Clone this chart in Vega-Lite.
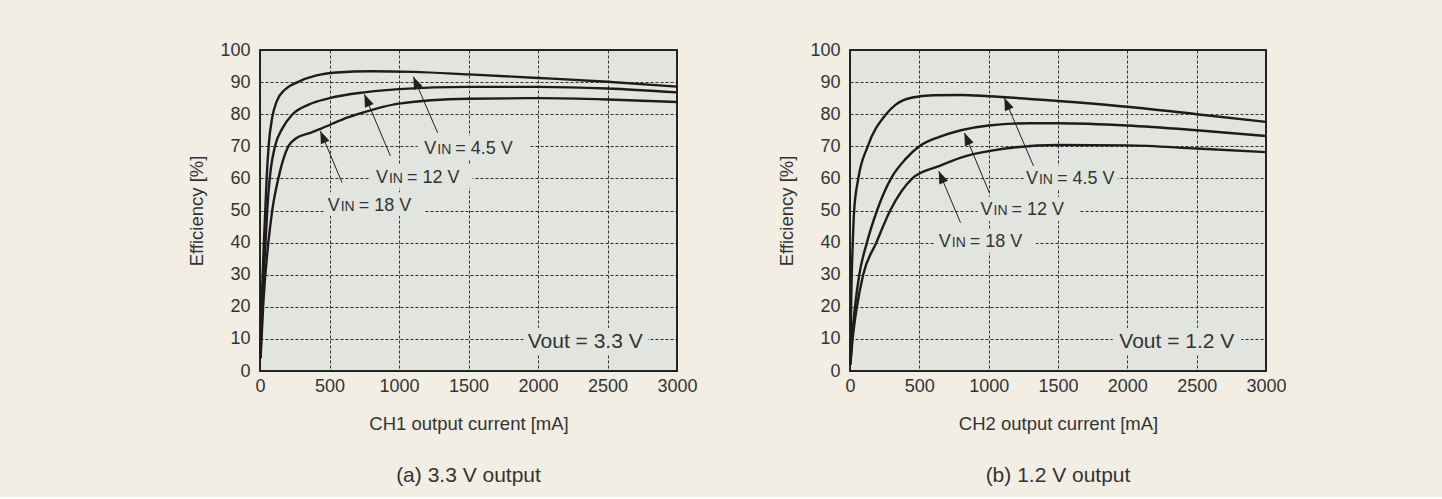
{
"$schema": "https://vega.github.io/schema/vega-lite/v6.json",
"background": "#f2eee3",
"padding": {"left": 186, "top": 40, "right": 162, "bottom": 10},
"bounds": "flush",
"spacing": 173,
"datasets": {
"curves": [
{"p":"a","vin":"4.5","x":2,"y":4},{"p":"a","vin":"4.5","x":15,"y":25},{"p":"a","vin":"4.5","x":28,"y":40},{"p":"a","vin":"4.5","x":38,"y":50},{"p":"a","vin":"4.5","x":48,"y":60},{"p":"a","vin":"4.5","x":62,"y":70},{"p":"a","vin":"4.5","x":88,"y":79},{"p":"a","vin":"4.5","x":120,"y":84},{"p":"a","vin":"4.5","x":180,"y":87.7},{"p":"a","vin":"4.5","x":271,"y":90},{"p":"a","vin":"4.5","x":400,"y":92},{"p":"a","vin":"4.5","x":550,"y":93},{"p":"a","vin":"4.5","x":800,"y":93.4},{"p":"a","vin":"4.5","x":1100,"y":93.2},{"p":"a","vin":"4.5","x":1500,"y":92.4},{"p":"a","vin":"4.5","x":2000,"y":91.3},{"p":"a","vin":"4.5","x":2500,"y":90.1},{"p":"a","vin":"4.5","x":3000,"y":88.6},
{"p":"a","vin":"12","x":3,"y":4},{"p":"a","vin":"12","x":20,"y":25},{"p":"a","vin":"12","x":40,"y":40},{"p":"a","vin":"12","x":52,"y":50},{"p":"a","vin":"12","x":70,"y":60},{"p":"a","vin":"12","x":108,"y":70},{"p":"a","vin":"12","x":160,"y":75.5},{"p":"a","vin":"12","x":235,"y":80},{"p":"a","vin":"12","x":350,"y":83},{"p":"a","vin":"12","x":500,"y":85},{"p":"a","vin":"12","x":750,"y":86.8},{"p":"a","vin":"12","x":1000,"y":87.8},{"p":"a","vin":"12","x":1500,"y":88.5},{"p":"a","vin":"12","x":2000,"y":88.5},{"p":"a","vin":"12","x":2500,"y":88},{"p":"a","vin":"12","x":3000,"y":86.8},
{"p":"a","vin":"18","x":4,"y":4},{"p":"a","vin":"18","x":25,"y":22},{"p":"a","vin":"18","x":60,"y":40},{"p":"a","vin":"18","x":88,"y":50},{"p":"a","vin":"18","x":132,"y":60},{"p":"a","vin":"18","x":204,"y":70},{"p":"a","vin":"18","x":260,"y":72.5},{"p":"a","vin":"18","x":350,"y":74},{"p":"a","vin":"18","x":440,"y":75.5},{"p":"a","vin":"18","x":600,"y":78.5},{"p":"a","vin":"18","x":703,"y":80},{"p":"a","vin":"18","x":1000,"y":83.3},{"p":"a","vin":"18","x":1500,"y":84.8},{"p":"a","vin":"18","x":2000,"y":85},{"p":"a","vin":"18","x":2500,"y":84.6},{"p":"a","vin":"18","x":3000,"y":83.8},
{"p":"b","vin":"4.5","x":3,"y":2},{"p":"b","vin":"4.5","x":8,"y":20},{"p":"b","vin":"4.5","x":20,"y":40},{"p":"b","vin":"4.5","x":30,"y":50},{"p":"b","vin":"4.5","x":60,"y":60},{"p":"b","vin":"4.5","x":128,"y":70},{"p":"b","vin":"4.5","x":260,"y":80},{"p":"b","vin":"4.5","x":330,"y":83},{"p":"b","vin":"4.5","x":450,"y":85.2},{"p":"b","vin":"4.5","x":600,"y":85.9},{"p":"b","vin":"4.5","x":800,"y":86},{"p":"b","vin":"4.5","x":1000,"y":85.6},{"p":"b","vin":"4.5","x":1500,"y":84.1},{"p":"b","vin":"4.5","x":2000,"y":82.3},{"p":"b","vin":"4.5","x":2500,"y":80},{"p":"b","vin":"4.5","x":3000,"y":77.6},
{"p":"b","vin":"12","x":3,"y":2},{"p":"b","vin":"12","x":14,"y":10},{"p":"b","vin":"12","x":36,"y":20},{"p":"b","vin":"12","x":67,"y":30},{"p":"b","vin":"12","x":122,"y":40},{"p":"b","vin":"12","x":195,"y":50},{"p":"b","vin":"12","x":296,"y":60},{"p":"b","vin":"12","x":400,"y":66},{"p":"b","vin":"12","x":500,"y":70},{"p":"b","vin":"12","x":650,"y":73},{"p":"b","vin":"12","x":800,"y":75},{"p":"b","vin":"12","x":1000,"y":76.5},{"p":"b","vin":"12","x":1300,"y":77.2},{"p":"b","vin":"12","x":1500,"y":77.2},{"p":"b","vin":"12","x":2000,"y":76.5},{"p":"b","vin":"12","x":2500,"y":75},{"p":"b","vin":"12","x":3000,"y":73.2},
{"p":"b","vin":"18","x":3,"y":2},{"p":"b","vin":"18","x":19,"y":10},{"p":"b","vin":"18","x":50,"y":20},{"p":"b","vin":"18","x":95,"y":30},{"p":"b","vin":"18","x":190,"y":40},{"p":"b","vin":"18","x":290,"y":50},{"p":"b","vin":"18","x":450,"y":60},{"p":"b","vin":"18","x":640,"y":63.8},{"p":"b","vin":"18","x":800,"y":66.5},{"p":"b","vin":"18","x":1000,"y":68.5},{"p":"b","vin":"18","x":1500,"y":70.4},{"p":"b","vin":"18","x":2000,"y":70.3},{"p":"b","vin":"18","x":2500,"y":69.3},{"p":"b","vin":"18","x":3000,"y":68.2}
],
"ann": [
{"p":"a","lx":1182,"ly":69.5,"rest":"= 4.5 V","bx0":1134,"bx1":1937,"by0":65.8,"by1":73.3,"tailx":1278,"taily":74.2,"tipx":1103,"tipy":91.7},
{"p":"a","lx":834,"ly":60.7,"rest":"= 12 V","bx0":784,"bx1":1530,"by0":57,"by1":64.4,"tailx":938,"taily":67,"tipx":751,"tipy":86.2},
{"p":"a","lx":487,"ly":52,"rest":"= 18 V","bx0":461,"bx1":1180,"by0":48.3,"by1":55.7,"tailx":590,"taily":58.7,"tipx":434,"tipy":74.8},
{"p":"b","lx":1269,"ly":60.2,"rest":"= 4.5 V","bx0":1262,"bx1":1931,"by0":56.5,"by1":63.9,"tailx":1323,"taily":63.9,"tipx":1113,"tipy":85.1},
{"p":"b","lx":941,"ly":50.5,"rest":"= 12 V","bx0":921,"bx1":1652,"by0":46.8,"by1":54.2,"tailx":1005,"taily":55.5,"tipx":825,"tipy":74.2},
{"p":"b","lx":640,"ly":40.5,"rest":"= 18 V","bx0":606,"bx1":1341,"by0":36.8,"by1":44.2,"tailx":797,"taily":46.2,"tipx":640,"tipy":62.3}
],
"vout": [
{"p":"a","lx":1926,"ly":9.5,"text":"Vout = 3.3 V","bx0":1900,"bx1":2791,"by0":5.3,"by1":13.5},
{"p":"b","lx":1942,"ly":9.5,"text":"Vout = 1.2 V","bx0":1895,"bx1":2820,"by0":5.3,"by1":13.5}
]
},
"config": {
"font": "Liberation Sans",
"view": {"stroke": "#262626", "strokeWidth": 2, "fill": "#e2e5df"},
"axis": {"labelFont": "Liberation Sans", "labelFontSize": 18, "labelColor": "#333333", "titleFont": "Liberation Sans", "titleFontSize": 18.5, "titleFontWeight": "normal", "titleColor": "#333333", "ticks": false, "domain": false, "grid": true, "gridColor": "#1a1a1a", "gridDash": [3, 2], "gridWidth": 0.9, "gridOpacity": 1, "labelFlush": false, "labelOverlap": false},
"axisX": {"labelPadding": 6, "titlePadding": 19},
"axisY": {"labelPadding": 10, "titlePadding": 13},
"title": {"font": "Liberation Sans", "fontSize": 21, "fontWeight": "normal", "color": "#333333"}
},
"hconcat": [
{
"width": 417, "height": 321,
"title": {"text": "(a) 3.3 V output", "orient": "bottom", "offset": 32},
"layer": [
{"data": {"name": "ann"}, "transform": [{"filter": "datum.p === 'a'"}], "mark": {"type": "rect", "fill": "#e2e5df"},
 "encoding": {"x": {"field": "bx0", "type": "quantitative", "title": "CH1 output current [mA]", "scale": {"domain": [0, 3000], "nice": false}, "axis": {"values": [0, 500, 1000, 1500, 2000, 2500, 3000], "format": "d"}}, "x2": {"field": "bx1"},
  "y": {"field": "by0", "type": "quantitative", "title": "Efficiency [%]", "scale": {"domain": [0, 100], "nice": false}, "axis": {"values": [0, 10, 20, 30, 40, 50, 60, 70, 80, 90, 100], "format": "d"}}, "y2": {"field": "by1"}}},
{"data": {"name": "vout"}, "transform": [{"filter": "datum.p === 'a'"}], "mark": {"type": "rect", "fill": "#e2e5df"},
 "encoding": {"x": {"field": "bx0", "type": "quantitative", "title": "CH1 output current [mA]", "axis": {"values": [0, 500, 1000, 1500, 2000, 2500, 3000], "format": "d"}}, "x2": {"field": "bx1"}, "y": {"field": "by0", "type": "quantitative", "title": "Efficiency [%]", "axis": {"values": [0, 10, 20, 30, 40, 50, 60, 70, 80, 90, 100], "format": "d"}}, "y2": {"field": "by1"}}},
{"data": {"name": "curves"}, "transform": [{"filter": "datum.p === 'a'"}], "mark": {"type": "line", "interpolate": "monotone", "color": "#1f1b1c", "strokeWidth": 2.4},
 "encoding": {"x": {"field": "x", "type": "quantitative", "title": "CH1 output current [mA]", "axis": {"values": [0, 500, 1000, 1500, 2000, 2500, 3000], "format": "d"}}, "y": {"field": "y", "type": "quantitative", "title": "Efficiency [%]", "axis": {"values": [0, 10, 20, 30, 40, 50, 60, 70, 80, 90, 100], "format": "d"}}, "detail": {"field": "vin"}}},
{"data": {"name": "ann"}, "transform": [{"filter": "datum.p === 'a'"}], "mark": {"type": "rule", "color": "#231f20", "strokeWidth": 1},
 "encoding": {"x": {"field": "tailx", "type": "quantitative", "title": "CH1 output current [mA]", "axis": {"values": [0, 500, 1000, 1500, 2000, 2500, 3000], "format": "d"}}, "x2": {"field": "tipx"}, "y": {"field": "taily", "type": "quantitative", "title": "Efficiency [%]", "axis": {"values": [0, 10, 20, 30, 40, 50, 60, 70, 80, 90, 100], "format": "d"}}, "y2": {"field": "tipy"}}},
{"data": {"name": "ann"}, "transform": [{"filter": "datum.p === 'a'"}, {"calculate": "atan2((datum.tipx - datum.tailx) * 0.139, (datum.tipy - datum.taily) * 3.21) * 180 / PI", "as": "ang"}], "mark": {"type": "point", "shape": "M0,0L0.9,2.4L-0.9,2.4Z", "filled": true, "color": "#231f20", "size": 110, "opacity": 1},
 "encoding": {"x": {"field": "tipx", "type": "quantitative", "title": "CH1 output current [mA]", "axis": {"values": [0, 500, 1000, 1500, 2000, 2500, 3000], "format": "d"}}, "y": {"field": "tipy", "type": "quantitative", "title": "Efficiency [%]", "axis": {"values": [0, 10, 20, 30, 40, 50, 60, 70, 80, 90, 100], "format": "d"}}, "angle": {"field": "ang", "type": "quantitative", "scale": null}}},
{"data": {"name": "ann"}, "transform": [{"filter": "datum.p === 'a'"}], "mark": {"type": "text", "text": "V", "align": "left", "baseline": "alphabetic", "dy": 6.5, "fontSize": 18, "color": "#333333"},
 "encoding": {"x": {"field": "lx", "type": "quantitative", "title": "CH1 output current [mA]", "axis": {"values": [0, 500, 1000, 1500, 2000, 2500, 3000], "format": "d"}}, "y": {"field": "ly", "type": "quantitative", "title": "Efficiency [%]", "axis": {"values": [0, 10, 20, 30, 40, 50, 60, 70, 80, 90, 100], "format": "d"}}}},
{"data": {"name": "ann"}, "transform": [{"filter": "datum.p === 'a'"}], "mark": {"type": "text", "text": "IN", "align": "left", "baseline": "alphabetic", "dx": 13, "dy": 6.5, "fontSize": 14, "color": "#333333"},
 "encoding": {"x": {"field": "lx", "type": "quantitative", "title": "CH1 output current [mA]", "axis": {"values": [0, 500, 1000, 1500, 2000, 2500, 3000], "format": "d"}}, "y": {"field": "ly", "type": "quantitative", "title": "Efficiency [%]", "axis": {"values": [0, 10, 20, 30, 40, 50, 60, 70, 80, 90, 100], "format": "d"}}}},
{"data": {"name": "ann"}, "transform": [{"filter": "datum.p === 'a'"}], "mark": {"type": "text", "align": "left", "baseline": "alphabetic", "dx": 31, "dy": 6.5, "fontSize": 18, "color": "#333333"},
 "encoding": {"x": {"field": "lx", "type": "quantitative", "title": "CH1 output current [mA]", "axis": {"values": [0, 500, 1000, 1500, 2000, 2500, 3000], "format": "d"}}, "y": {"field": "ly", "type": "quantitative", "title": "Efficiency [%]", "axis": {"values": [0, 10, 20, 30, 40, 50, 60, 70, 80, 90, 100], "format": "d"}}, "text": {"field": "rest"}}},
{"data": {"name": "vout"}, "transform": [{"filter": "datum.p === 'a'"}], "mark": {"type": "text", "align": "left", "baseline": "alphabetic", "dy": 7.5, "fontSize": 21, "color": "#333333"},
 "encoding": {"x": {"field": "lx", "type": "quantitative", "title": "CH1 output current [mA]", "axis": {"values": [0, 500, 1000, 1500, 2000, 2500, 3000], "format": "d"}}, "y": {"field": "ly", "type": "quantitative", "title": "Efficiency [%]", "axis": {"values": [0, 10, 20, 30, 40, 50, 60, 70, 80, 90, 100], "format": "d"}}, "text": {"field": "text"}}}
]
},
{
"width": 416, "height": 321,
"title": {"text": "(b) 1.2 V output", "orient": "bottom", "offset": 32},
"layer": [
{"data": {"name": "ann"}, "transform": [{"filter": "datum.p === 'b'"}], "mark": {"type": "rect", "fill": "#e2e5df"},
 "encoding": {"x": {"field": "bx0", "type": "quantitative", "title": "CH2 output current [mA]", "scale": {"domain": [0, 3000], "nice": false}, "axis": {"values": [0, 500, 1000, 1500, 2000, 2500, 3000], "format": "d"}}, "x2": {"field": "bx1"},
  "y": {"field": "by0", "type": "quantitative", "title": "Efficiency [%]", "scale": {"domain": [0, 100], "nice": false}, "axis": {"values": [0, 10, 20, 30, 40, 50, 60, 70, 80, 90, 100], "format": "d"}}, "y2": {"field": "by1"}}},
{"data": {"name": "vout"}, "transform": [{"filter": "datum.p === 'b'"}], "mark": {"type": "rect", "fill": "#e2e5df"},
 "encoding": {"x": {"field": "bx0", "type": "quantitative", "title": "CH2 output current [mA]", "axis": {"values": [0, 500, 1000, 1500, 2000, 2500, 3000], "format": "d"}}, "x2": {"field": "bx1"}, "y": {"field": "by0", "type": "quantitative", "title": "Efficiency [%]", "axis": {"values": [0, 10, 20, 30, 40, 50, 60, 70, 80, 90, 100], "format": "d"}}, "y2": {"field": "by1"}}},
{"data": {"name": "curves"}, "transform": [{"filter": "datum.p === 'b'"}], "mark": {"type": "line", "interpolate": "monotone", "color": "#1f1b1c", "strokeWidth": 2.4},
 "encoding": {"x": {"field": "x", "type": "quantitative", "title": "CH2 output current [mA]", "axis": {"values": [0, 500, 1000, 1500, 2000, 2500, 3000], "format": "d"}}, "y": {"field": "y", "type": "quantitative", "title": "Efficiency [%]", "axis": {"values": [0, 10, 20, 30, 40, 50, 60, 70, 80, 90, 100], "format": "d"}}, "detail": {"field": "vin"}}},
{"data": {"name": "ann"}, "transform": [{"filter": "datum.p === 'b'"}], "mark": {"type": "rule", "color": "#231f20", "strokeWidth": 1},
 "encoding": {"x": {"field": "tailx", "type": "quantitative", "title": "CH2 output current [mA]", "axis": {"values": [0, 500, 1000, 1500, 2000, 2500, 3000], "format": "d"}}, "x2": {"field": "tipx"}, "y": {"field": "taily", "type": "quantitative", "title": "Efficiency [%]", "axis": {"values": [0, 10, 20, 30, 40, 50, 60, 70, 80, 90, 100], "format": "d"}}, "y2": {"field": "tipy"}}},
{"data": {"name": "ann"}, "transform": [{"filter": "datum.p === 'b'"}, {"calculate": "atan2((datum.tipx - datum.tailx) * 0.139, (datum.tipy - datum.taily) * 3.21) * 180 / PI", "as": "ang"}], "mark": {"type": "point", "shape": "M0,0L0.9,2.4L-0.9,2.4Z", "filled": true, "color": "#231f20", "size": 110, "opacity": 1},
 "encoding": {"x": {"field": "tipx", "type": "quantitative", "title": "CH2 output current [mA]", "axis": {"values": [0, 500, 1000, 1500, 2000, 2500, 3000], "format": "d"}}, "y": {"field": "tipy", "type": "quantitative", "title": "Efficiency [%]", "axis": {"values": [0, 10, 20, 30, 40, 50, 60, 70, 80, 90, 100], "format": "d"}}, "angle": {"field": "ang", "type": "quantitative", "scale": null}}},
{"data": {"name": "ann"}, "transform": [{"filter": "datum.p === 'b'"}], "mark": {"type": "text", "text": "V", "align": "left", "baseline": "alphabetic", "dy": 6.5, "fontSize": 18, "color": "#333333"},
 "encoding": {"x": {"field": "lx", "type": "quantitative", "title": "CH2 output current [mA]", "axis": {"values": [0, 500, 1000, 1500, 2000, 2500, 3000], "format": "d"}}, "y": {"field": "ly", "type": "quantitative", "title": "Efficiency [%]", "axis": {"values": [0, 10, 20, 30, 40, 50, 60, 70, 80, 90, 100], "format": "d"}}}},
{"data": {"name": "ann"}, "transform": [{"filter": "datum.p === 'b'"}], "mark": {"type": "text", "text": "IN", "align": "left", "baseline": "alphabetic", "dx": 13, "dy": 6.5, "fontSize": 14, "color": "#333333"},
 "encoding": {"x": {"field": "lx", "type": "quantitative", "title": "CH2 output current [mA]", "axis": {"values": [0, 500, 1000, 1500, 2000, 2500, 3000], "format": "d"}}, "y": {"field": "ly", "type": "quantitative", "title": "Efficiency [%]", "axis": {"values": [0, 10, 20, 30, 40, 50, 60, 70, 80, 90, 100], "format": "d"}}}},
{"data": {"name": "ann"}, "transform": [{"filter": "datum.p === 'b'"}], "mark": {"type": "text", "align": "left", "baseline": "alphabetic", "dx": 31, "dy": 6.5, "fontSize": 18, "color": "#333333"},
 "encoding": {"x": {"field": "lx", "type": "quantitative", "title": "CH2 output current [mA]", "axis": {"values": [0, 500, 1000, 1500, 2000, 2500, 3000], "format": "d"}}, "y": {"field": "ly", "type": "quantitative", "title": "Efficiency [%]", "axis": {"values": [0, 10, 20, 30, 40, 50, 60, 70, 80, 90, 100], "format": "d"}}, "text": {"field": "rest"}}},
{"data": {"name": "vout"}, "transform": [{"filter": "datum.p === 'b'"}], "mark": {"type": "text", "align": "left", "baseline": "alphabetic", "dy": 7.5, "fontSize": 21, "color": "#333333"},
 "encoding": {"x": {"field": "lx", "type": "quantitative", "title": "CH2 output current [mA]", "axis": {"values": [0, 500, 1000, 1500, 2000, 2500, 3000], "format": "d"}}, "y": {"field": "ly", "type": "quantitative", "title": "Efficiency [%]", "axis": {"values": [0, 10, 20, 30, 40, 50, 60, 70, 80, 90, 100], "format": "d"}}, "text": {"field": "text"}}}
]
}
]
}
